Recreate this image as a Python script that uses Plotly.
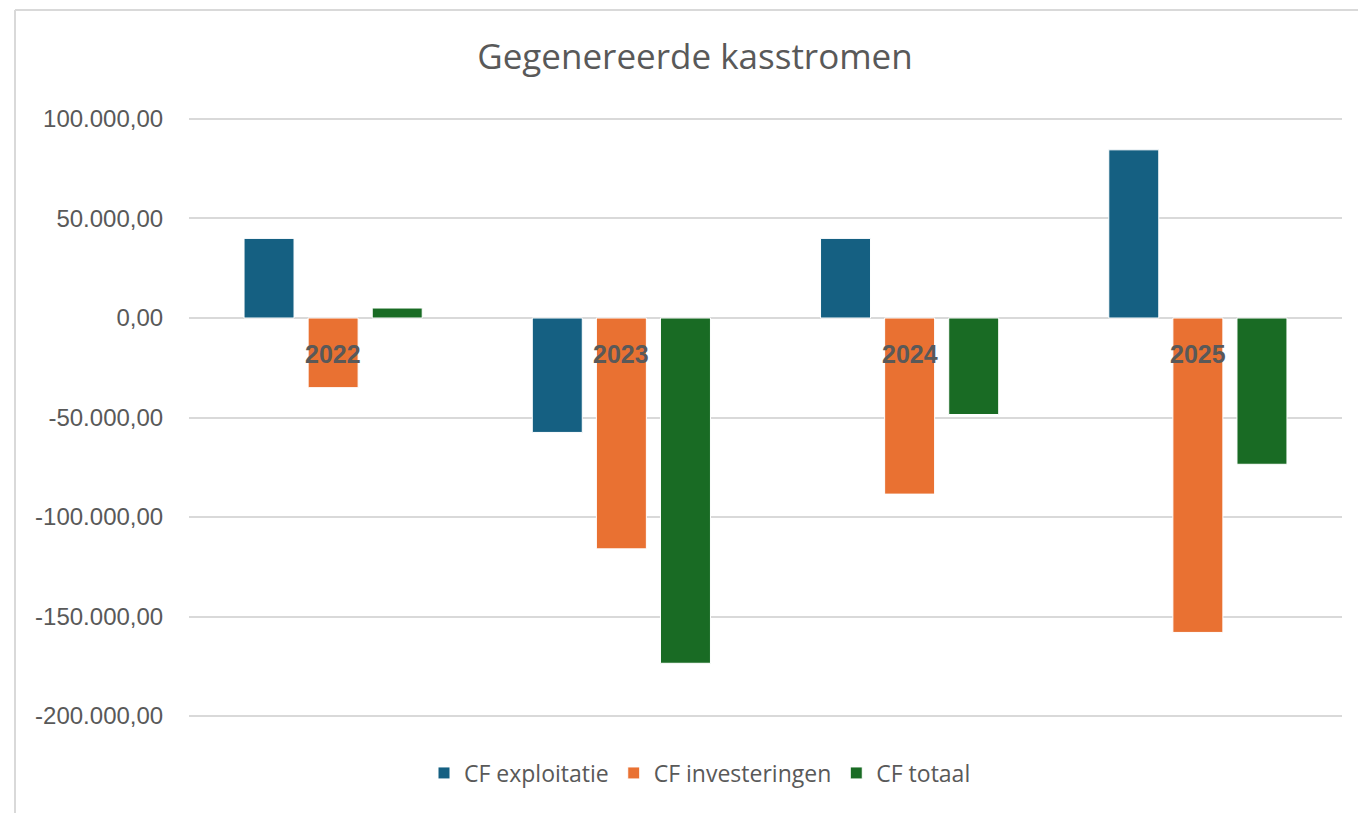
import plotly.graph_objects as go

jaren = ["2022", "2023", "2024", "2025"]
cf_exploitatie = [40000, -57500, 40000, 84500]
cf_investeringen = [-35000, -116000, -88500, -158000]
cf_totaal = [5000, -173500, -48500, -73500]

y_ticks = [100000, 50000, 0, -50000, -100000, -150000, -200000]


def nl_fmt(v):
    s = "{:,.2f}".format(abs(v)).replace(",", "X").replace(".", ",").replace("X", ".")
    return ("-" if v < 0 else "") + s


y_ticktext = [nl_fmt(v) for v in y_ticks]

W, H = 1358, 813
L, R, T, B = 189, 16, 116, 94
pw, ph = W - L - R, H - T - B

fig = go.Figure()
series = [
    ("CF exploitatie", cf_exploitatie, "#156082"),
    ("CF investeringen", cf_investeringen, "#E97132"),
    ("CF totaal", cf_totaal, "#196B24"),
]
for name, vals, col in series:
    fig.add_trace(go.Bar(x=jaren, y=vals, name=name, marker_color=col,
                         marker_line_color="#FFFFFF", marker_line_width=1))

# category labels sit just under the zero line
# (numeric-looking category names are read as indices, so use the index)
for i, j in enumerate(jaren):
    fig.add_annotation(x=i, y=0, xref="x", yref="y", text="<b>%s</b>" % j, showarrow=False,
                       yanchor="middle", yshift=-36,
                       font=dict(family="Liberation Sans", size=25, color="#595959"))


# chart-area border (left and top only visible)
def px(p):
    return (p - L) / pw


def py(p):
    return (H - B - p) / ph


fig.add_shape(type="line", xref="paper", yref="paper", x0=px(15), x1=px(15),
              y0=py(10), y1=py(813), line=dict(color="#D9D9D9", width=2))
fig.add_shape(type="line", xref="paper", yref="paper", x0=px(15), x1=px(1358),
              y0=py(10), y1=py(10), line=dict(color="#D9D9D9", width=2))

fig.update_layout(
    width=W, height=H,
    margin=dict(l=L, r=R, t=T, b=B),
    paper_bgcolor="white", plot_bgcolor="white",
    barmode="group", bargap=0.333, bargroupgap=0.22,
    title=dict(text="Gegenereerde kasstromen", x=695 / W, xref="container", xanchor="center",
               y=1 - 57 / H, yanchor="middle",
               font=dict(family="Open Sans", size=35, color="#595959")),
    legend=dict(orientation="h", x=px(700), xanchor="center", y=py(773), yanchor="middle",
                font=dict(family="Open Sans", size=23, color="#595959"),
                traceorder="normal"),
    showlegend=True,
)
fig.update_xaxes(type="category", categoryorder="array", categoryarray=jaren,
                 range=[-0.5, len(jaren) - 0.5], autorange=False,
                 showticklabels=False, showgrid=False, zeroline=False, showline=False)
fig.update_yaxes(range=[-201500, 101500], autorange=False, tickvals=y_ticks, ticktext=y_ticktext,
                 showgrid=True, gridcolor="#D9D9D9", gridwidth=2,
                 zeroline=True, zerolinecolor="#D9D9D9", zerolinewidth=2,
                 ticks="outside", ticklen=20, tickcolor="rgba(0,0,0,0)",
                 tickfont=dict(family="Liberation Sans", size=24, color="#595959"))

fig.write_html("out.html", config={"displayModeBar": False},
               post_script="document.body.style.margin='0px';")
